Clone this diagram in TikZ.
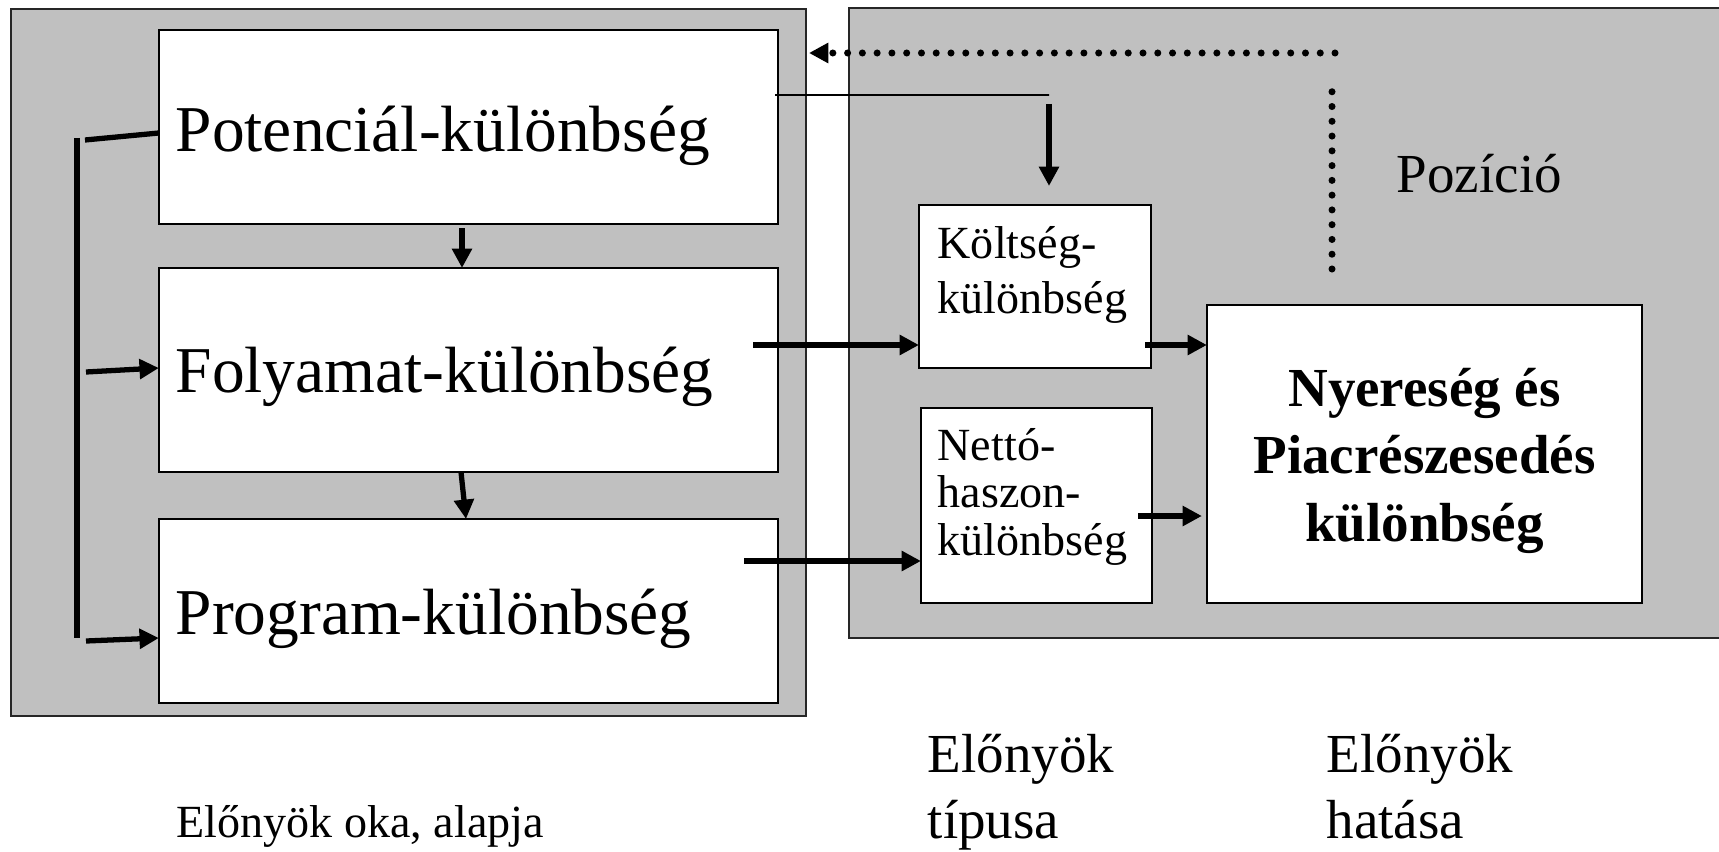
\documentclass[tikz,border=0pt]{standalone}
\usepackage{fontspec}
\setmainfont{Liberation Serif}
\usetikzlibrary{arrows.meta,calc}
\definecolor{panelgray}{RGB}{192,192,192}
\tikzset{
  panel/.style={draw=black!85, line width=0.6pt, fill=panelgray, inner sep=0pt, outer sep=0pt},
  box/.style={draw=black, line width=0.6pt, fill=white, inner sep=0pt, outer sep=0pt},
  bigtxt/.style={font=\fontsize{18.6}{22}\selectfont, inner sep=0pt, anchor=base west},
  midtxt/.style={font=\fontsize{15.65}{18.5}\selectfont, inner sep=0pt, anchor=base west, align=left},
  smalltxt/.style={font=\fontsize{13.1}{15.9}\selectfont, inner sep=0pt, anchor=base west, align=left},
  fat/.style={line width=1.5pt, -{Triangle[length=5.5pt,width=5.5pt]}},
  bar/.style={line width=1.5pt},
  hair/.style={line width=0.5pt},
  dots/.style={line width=2pt, line cap=round, dash pattern=on 0pt off 4.2pt},
}

\begin{document}
\begin{tikzpicture}[x=0.01cm, y=-0.01cm]
			%%%%% START %%%%%
			\useasboundingbox (0,0) rectangle (1719,852);
			
			\node[panel, minimum width=7.95cm, minimum height=7.07cm] (left) at (408.5,362.5) {};
			\node[panel, minimum width=8.81cm, minimum height=6.30cm] (right) at (1289.5,323) {};
			
			\node[box, minimum width=6.19cm, minimum height=1.94cm] (pot) at (468.5,127) {};
			\node[box, minimum width=6.19cm, minimum height=2.04cm] (fol) at (468.5,370) {};
			\node[box, minimum width=6.19cm, minimum height=1.84cm] (prog) at (468.5,611) {};
			\node[bigtxt] (pottxt) at (175,152) {Potenciál-különbség};
			\node[bigtxt] (foltxt) at (175,392) {Folyamat-különbség};
			\node[bigtxt] (progtxt) at (175,634) {Program-különbség};
			
			\node[box, minimum width=2.32cm, minimum height=1.63cm] (kolt) at (1035,286.5) {};
			\node[box, minimum width=2.31cm, minimum height=1.95cm] (netto) at (1036.5,505.5) {};
			\node[box, minimum width=4.35cm, minimum height=2.98cm] (nyer) at (1424.5,454) {};
			\node[smalltxt] (kolttxt) at (937,314) {Költség-\\különbség};
			\node[smalltxt, font=\fontsize{13.1}{13.4}\selectfont] (nettotxt) at (937,555) {Nettó-\\haszon-\\különbség};
			\node[font=\fontsize{15.65}{19.06}\selectfont\bfseries, inner sep=0pt, anchor=base, align=center] (nyertxt) at (1424.5,541) {Nyereség és\\Piacrészesedés\\különbség};
			\node[midtxt] (poz) at (1396,193) {Pozíció};
			
			\node[midtxt] (typlbl) at (927,838) {Előnyök\\típusa};
			\node[midtxt] (hatlbl) at (1326,838) {Előnyök\\hatása};
			\node[font=\fontsize{13.1}{15}\selectfont, inner sep=0pt, anchor=base west] (okalbl) at (176,837) {Előnyök oka, alapja};
			
			% left bracket
			\coordinate (brtop) at (77,138);
			\coordinate (brbot) at (77,638);
			\coordinate (b1) at (85,140);
			\coordinate (b2) at (86,372);
			\coordinate (b3) at (86,641);
			\draw[bar] (brtop) -- (brbot);
			\draw[bar] (b1) -- ($(pot.west)+(0,6)$);
			\draw[fat] (b2) -- ($(fol.west)+(0,-2)$);
			\draw[fat] (b3) -- ($(prog.west)+(0,27)$);
			
			\draw[fat] ($(pot.south)+(-6.5,4)$) -- ($(fol.north)+(-6.5,0)$);
			\draw[fat] ($(fol.south)+(-7.5,0)$) -- ($(prog.north)+(-2.5,0)$);
			
			% to the right side
			\coordinate (kink) at (1049,95);
			\draw[hair] ($(pot.north east)+(-3,65)$) -- (kink);
			\draw[fat] ($(kink)+(0,9)$) -- ($(kolt.north)+(14,-19)$);
			
			\coordinate (folout) at (753,345);
			\coordinate (progout) at (744,561);
			\draw[fat] (folout) -- (folout -| kolt.west);
			\draw[fat] (progout) -- (progout -| netto.west);
			\draw[fat] ($(kolt.east)+(-6,58.5)$) -- ($(nyer.west)+(0,-109)$);
			\draw[fat] ($(netto.east)+(-14,10.5)$) -- ($(nyer.west)+(-5,62)$);
			
			% feedback
			\coordinate (dv1) at (1332,269);
			\coordinate (dv2) at (1332,86);
			\coordinate (dh) at (1335,53);
			\coordinate (dtip) at (809,53);
			\draw[dots] (dv1) -- (dv2);
			\draw[dots, -{Triangle[length=5.5pt,width=5.5pt]}] (dh) -- (dtip);
			
			%%%%% END %%%%%
\end{tikzpicture}
\end{document}
